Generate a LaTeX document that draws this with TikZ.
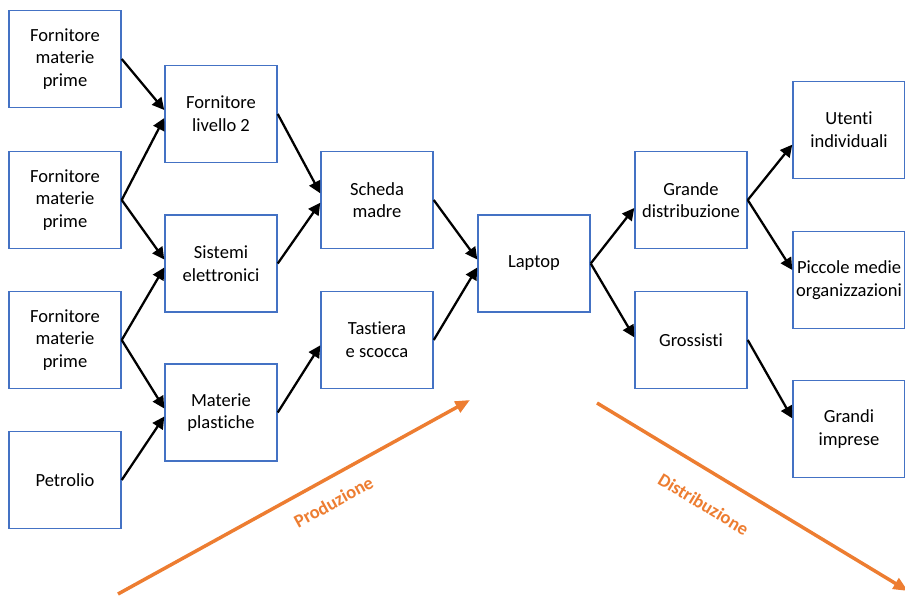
\documentclass[tikz,border=0pt]{standalone}
\usepackage{fontspec}
\setmainfont{Carlito}[Ligatures=NoCommon]
\usetikzlibrary{arrows.meta}
\definecolor{boxblue}{HTML}{4472C4}
\definecolor{arrorange}{HTML}{ED7D31}
\tikzset{
  blocco/.style={draw=boxblue,line width=1.1pt,rectangle,minimum width=84pt,minimum height=72.75pt,
    align=center,inner sep=1pt,font=\fontsize{13.9}{17}\selectfont},
  freccia/.style={line width=1.7pt,-{Triangle[length=9pt,width=9pt]}},
  fase/.style={draw=arrorange,line width=2.6pt,-{Triangle[length=11pt,width=9pt]}},
  fasetesto/.style={text=arrorange,font=\fontsize{13.9}{16}\selectfont\bfseries,sloped}
}
\begin{document}
\begin{tikzpicture}[x=0.75pt,y=-0.75pt]
    \useasboundingbox (0,0) rectangle (905,596);
    \node[blocco] (fmp1) at (65,59) {Fornitore\\materie\\prime};
    \node[blocco] (fmp2) at (65,200) {Fornitore\\materie\\prime};
    \node[blocco] (fmp3) at (65,340) {Fornitore\\materie\\prime};
    \node[blocco] (petrolio) at (65,480) {Petrolio};
    \node[blocco] (liv2) at (221,114) {Fornitore\\livello 2};
    \node[blocco] (sistemi) at (221,263.5) {Sistemi\\elettronici};
    \node[blocco] (plastiche) at (221,412.5) {Materie\\plastiche};
    \node[blocco] (scheda) at (377,200) {Scheda\\madre};
    \node[blocco] (tastiera) at (377,340) {Tastiera\\e scocca};
    \node[blocco] (laptop) at (534,263.5) {Laptop};
    \node[blocco] (grande) at (691,200) {Grande\\distribuzione};
    \node[blocco] (grossisti) at (691,340) {Grossisti};
    \node[blocco] (utenti) at (849,130) {Utenti\\individuali};
    \node[blocco] (piccole) at (849,280) {Piccole medie\\organizzazioni};
    \node[blocco] (imprese) at (849,429) {Grandi\\imprese};
    \draw[freccia] (fmp1.east) -- ([yshift=3pt]liv2.west);
    \draw[freccia] (fmp2.east) -- ([yshift=-3pt]liv2.west);
    \draw[freccia] (fmp2.east) -- ([yshift=3pt]sistemi.west);
    \draw[freccia] (fmp3.east) -- ([yshift=-3pt]sistemi.west);
    \draw[freccia] (fmp3.east) -- ([yshift=3pt]plastiche.west);
    \draw[freccia] (petrolio.east) -- ([yshift=-3pt]plastiche.west);
    \draw[freccia] (liv2.east) -- ([yshift=5pt]scheda.west);
    \draw[freccia] (sistemi.east) -- ([yshift=-2pt]scheda.west);
    \draw[freccia] (plastiche.east) -- ([yshift=-4pt]tastiera.west);
    \draw[freccia] (scheda.east) -- ([yshift=3pt]laptop.west);
    \draw[freccia] (tastiera.east) -- ([yshift=-3pt]laptop.west);
    \draw[freccia] (laptop.east) -- ([yshift=-6pt]grande.west);
    \draw[freccia] (laptop.east) -- ([yshift=2pt]grossisti.west);
    \draw[freccia] (grande.east) -- ([yshift=-11pt]utenti.west);
    \draw[freccia] (grande.east) -- ([yshift=7.5pt]piccole.west);
    \draw[freccia] (grossisti.east) -- ([yshift=8pt]imprese.west);
    \coordinate (prodA) at (118,594);
    \coordinate (prodB) at (470,400);
    \coordinate (distA) at (597,403);
    \coordinate (distB) at (908,591);
    \draw[fase] (prodA) -- (prodB) node[fasetesto,pos=0.58,below=8pt] {Produzione};
    \draw[fase] (distA) -- (distB) node[fasetesto,pos=0.395,below=14pt] {Distribuzione};
  \end{tikzpicture}
\end{document}
